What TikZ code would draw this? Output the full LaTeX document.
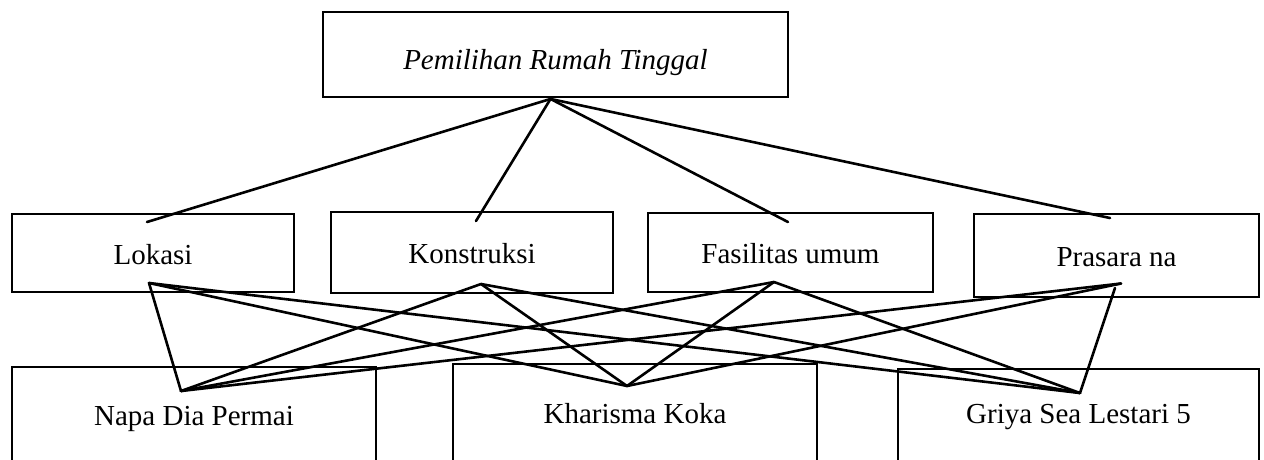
\documentclass[tikz,border=0pt]{standalone}
\usepackage{fontspec}
\setmainfont{Liberation Serif}
\usetikzlibrary{calc}
\begin{document}
\begin{tikzpicture}[x=1pt,y=-1pt,
  box/.style={draw,line width=1.9pt,rectangle,inner sep=0pt,font=\fontsize{29}{34}\selectfont,text depth=6pt,text height=28pt},
  link/.style={line width=2.6pt,line cap=round}]
\useasboundingbox (0,0) rectangle (1264,459);
\clip (0,0) rectangle (1264,459);
% top
\node[box,minimum width=465pt,minimum height=85pt,text height=35pt,font=\fontsize{29}{34}\selectfont\itshape] (top) at (555.5,54.5) {Pemilihan Rumah Tinggal};
% criteria
\node[box,minimum width=282pt,minimum height=78pt] (lok) at (153,253) {Lokasi};
\node[box,minimum width=282pt,minimum height=81pt] (kon) at (472,252.5) {Konstruksi};
\node[box,minimum width=285pt,minimum height=79pt] (fas) at (790.5,252.5) {Fasilitas umum};
\node[box,minimum width=285pt,minimum height=83pt] (pra) at (1116.5,255.5) {Prasara na};
% alternatives
\node[box,minimum width=364pt,minimum height=108pt,text height=14pt] (napa) at (194,421) {Napa Dia Permai};
\node[box,minimum width=364pt,minimum height=111pt,text height=13pt] (kha) at (635,419.5) {Kharisma Koka};
\node[box,minimum width=361pt,minimum height=106pt,text height=8pt] (gri) at (1078.5,422) {Griya Sea Lestari 5};
% connector ends
\coordinate (topB) at ($(top.south)+(-5,1)$);
\coordinate (lokT) at ($(lok.center)+(-6,-31)$);
\coordinate (konT) at ($(kon.center)+(4,-31.5)$);
\coordinate (fasT) at ($(fas.center)+(-2.5,-30.5)$);
\coordinate (praT) at ($(pra.center)+(-6.5,-37.5)$);
\coordinate (lokB) at ($(lok.center)+(-4,30)$);
\coordinate (konB) at ($(kon.center)+(9,31.5)$);
\coordinate (fasB) at ($(fas.center)+(-16.5,29.5)$);
\coordinate (praB) at ($(pra.center)+(4.5,28)$);
\coordinate (praB2) at ($(pra.center)+(-1.5,32.5)$);
\coordinate (napaT) at ($(napa.center)+(-13,-30)$);
\coordinate (khaT) at ($(kha.center)+(-8,-33.5)$);
\coordinate (griT) at ($(gri.center)+(1.5,-29)$);
% top links
\foreach \c in {lokT,konT,fasT,praT} \draw[link] (topB) -- (\c);
% bottom links
\foreach \a in {lokB,konB,fasB}
  \foreach \b in {napaT,khaT,griT}
    \draw[link] (\a) -- (\b);
\draw[link] (praB) -- (napaT);
\draw[link] (praB) -- (khaT);
\draw[link] (praB2) -- (griT);
\end{tikzpicture}
\end{document}
